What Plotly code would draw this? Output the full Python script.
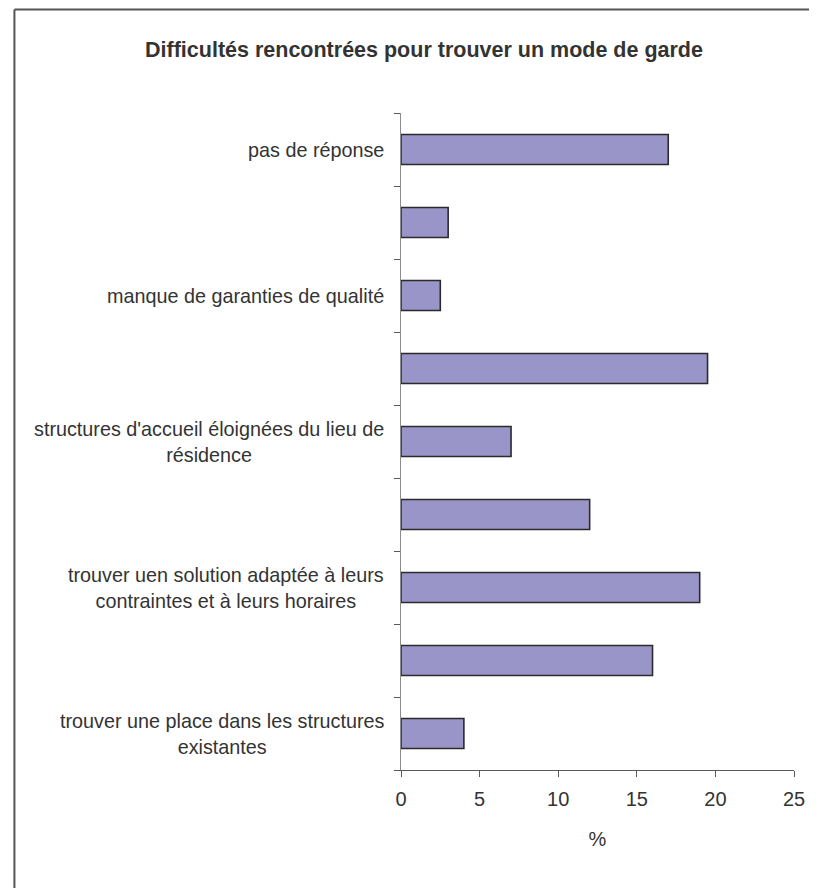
import plotly.graph_objects as go

# Data (top to bottom as displayed)
categories = [
    "pas de réponse",
    "",
    "manque de garanties de qualité",
    "",
    "structures d'accueil éloignées du lieu de<br>résidence",
    "",
    "trouver uen solution adaptée à leurs<br>contraintes et à leurs horaires",
    "",
    "trouver une place dans les structures<br>existantes",
]
values = [17, 3, 2.5, 19.5, 7, 12, 19, 16, 4]
x_ticks = [0, 5, 10, 15, 20, 25]

positions = list(range(len(categories)))

fig = go.Figure()
fig.add_trace(go.Bar(
    x=values,
    y=positions,
    orientation="h",
    width=0.41,
    marker=dict(color="#9a95c8", line=dict(color="#2b2b2b", width=1.6)),
    hoverinfo="x",
))

annotations = []
for p, lab in zip(positions, categories):
    if lab:
        annotations.append(dict(
            x=0, xref="paper", y=p, yref="y",
            text=lab, showarrow=False,
            xanchor="right", yanchor="middle", align="center",
            xshift=-15,
            font=dict(family="Liberation Sans", size=19.8, color="#333333"),
        ))

# figure is placed 8px in from the page corner (body margin)
W, H = 809, 880
L, R, T, B = 393, 18, 105, 118
pw, ph = W - L - R, H - T - B

def px_x(v):
    return (v - L) / pw

def px_y(v):
    return (H - B - v) / ph

shapes = [
    dict(type="line", xref="paper", yref="paper",
         x0=px_x(1.5), x1=px_x(W + 20), y0=px_y(1.5), y1=px_y(1.5),
         line=dict(color="#555555", width=2)),
    dict(type="line", xref="paper", yref="paper",
         x0=px_x(1.5), x1=px_x(1.5), y0=px_y(1.5), y1=px_y(H + 20),
         line=dict(color="#555555", width=2)),
]

fig.update_layout(
    width=W, height=H,
    margin=dict(l=L, r=R, t=T, b=B, pad=0),
    paper_bgcolor="white", plot_bgcolor="white",
    showlegend=False,
    title=dict(
        text="<b>Difficultés rencontrées pour trouver un mode de garde</b>",
        x=416 / W, xanchor="center", xref="container",
        y=(H - 41) / H, yanchor="middle", yref="container",
        font=dict(family="Liberation Sans", size=21.5, color="#333333"),
    ),
    annotations=annotations,
    shapes=shapes,
    bargap=0.59,
)

fig.update_xaxes(
    range=[0, 25], tickvals=x_ticks, ticktext=[str(t) for t in x_ticks],
    showgrid=False, zeroline=False,
    showline=True, linecolor="#595959", linewidth=1,
    ticks="outside", ticklen=6, tickcolor="#595959", tickwidth=1,
    ticklabelstandoff=5,
    tickfont=dict(family="Liberation Sans", size=20, color="#333333"),
    title=dict(text="%", standoff=22,
               font=dict(family="Liberation Sans", size=20, color="#333333")),
)
fig.update_yaxes(
    range=[len(categories) - 0.5, -0.5],
    tick0=-0.5, dtick=1, tickmode="linear",
    showticklabels=False,
    showgrid=False, zeroline=False,
    showline=True, linecolor="#8c8c8c", linewidth=1,
    ticks="outside", ticklen=6, tickcolor="#595959", tickwidth=1,
)

fig.write_html("out.html")
